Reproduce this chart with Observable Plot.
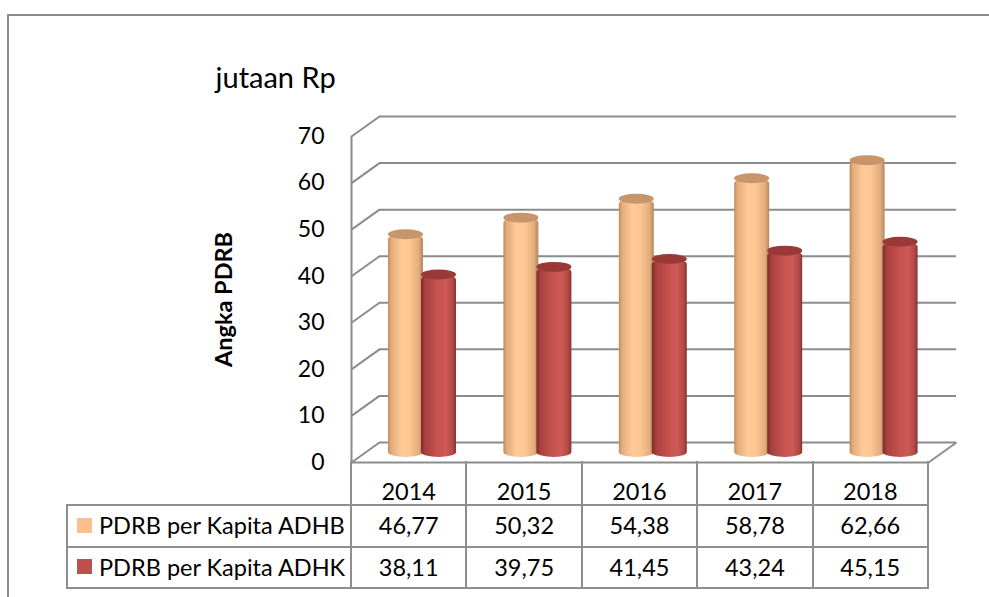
<!DOCTYPE html>
<html>
<head>
<meta charset="utf-8">
<script src="https://cdn.jsdelivr.net/npm/d3@7"></script>
<script src="https://cdn.jsdelivr.net/npm/@observablehq/plot@0.6"></script>
<style>
  html, body { margin: 0; padding: 0; background: #fff; }
  #wrap { position: relative; width: 989px; height: 597px; overflow: hidden; font-family: Lato, "Noto Sans", sans-serif; color: #000; }
  #border { position: absolute; left: 7px; top: 14px; width: 1100px; height: 800px; border: 2px solid #8c8c8c; box-sizing: border-box; }
  #chart { position: absolute; left: 0; top: 0; }
  .hl, .vl { position: absolute; background: #8e8e8e; }
  .cell { position: absolute; text-align: center; white-space: nowrap; font-size: 23.5px; }
  .key { position: absolute; width: 15px; height: 15px; }
</style>
</head>
<body>
<div id="wrap">
  <div id="border"></div>
  <svg width="0" height="0" style="position:absolute">
    <defs>
      <linearGradient id="gA" x1="0" x2="1" y1="0" y2="0">
        <stop offset="0" stop-color="#c08d62"/>
        <stop offset="0.1" stop-color="#e4ad7b"/>
        <stop offset="0.38" stop-color="#ffca98"/>
        <stop offset="0.62" stop-color="#fcc692"/>
        <stop offset="0.88" stop-color="#e2ac7c"/>
        <stop offset="1" stop-color="#b5875d"/>
      </linearGradient>
      <linearGradient id="gK" x1="0" x2="1" y1="0" y2="0">
        <stop offset="0" stop-color="#7e2c2a"/>
        <stop offset="0.12" stop-color="#a8413e"/>
        <stop offset="0.45" stop-color="#c4514e"/>
        <stop offset="0.72" stop-color="#cd5a56"/>
        <stop offset="0.9" stop-color="#b44a47"/>
        <stop offset="1" stop-color="#8a3431"/>
      </linearGradient>
    </defs>
  </svg>
  <div id="chart"></div>
</div>
<script>
// ---- data ----
const years = ["2014", "2015", "2016", "2017", "2018"];
const adhb = [46.77, 50.32, 54.38, 58.78, 62.66];
const adhk = [38.11, 39.75, 41.45, 43.24, 45.15];
const seriesNames = ["PDRB per Kapita ADHB", "PDRB per Kapita ADHK"];
const yTicks = [0, 10, 20, 30, 40, 50, 60, 70];
const yTitle = "Angka PDRB";
const unitLabel = "jutaan Rp";

// ---- layout / style ----
const W = 989, H = 597;
const ML = 351, MR = 61, MT = 136, MB = 135;
const DEPTH_X = 28, DEPTH_Y = 20;     // 3D depth of the walls, px
const yMax = 70;
const grid = "#8c8c8c";
const capA = "#c8956b", capK = "#9a3a37";
const keyColors = ["#fbc08e", "#c0504d"];

const rows = years.map((year, i) => ({i, year, adhb: adhb[i], adhk: adhk[i]}));
const pxX = (W - ML - MR) / years.length;
const pxY = (H - MT - MB) / yMax;
const ddx = DEPTH_X / pxX, ddy = DEPTH_Y / pxY;

const bar = (key, fill, cap, insetLeft, insetRight) => [
  Plot.rect(rows, {x1: d => d.i, x2: d => d.i + 1, y1: 0, y2: key,
    insetLeft, insetRight, insetBottom: -5, rx: 17.5, ry: 5,
    fill, dx: DEPTH_X / 2, dy: -DEPTH_Y / 2}),
  Plot.rect(rows, {x1: d => d.i, x2: d => d.i + 1, y1: key, y2: key,
    insetLeft, insetRight, insetTop: -5, insetBottom: -5, rx: 17.5, ry: 5,
    fill: cap, dx: DEPTH_X / 2, dy: -DEPTH_Y / 2})
];

const chart = Plot.plot({
  width: W, height: H,
  marginLeft: ML, marginRight: MR, marginTop: MT, marginBottom: MB,
  style: {fontFamily: "Lato, 'Noto Sans', sans-serif", fontSize: "23px", background: "transparent", color: "#000", overflow: "visible"},
  x: {domain: [0, years.length], axis: null},
  y: {domain: [0, yMax], axis: null},
  marks: [
    // back wall gridlines
    Plot.ruleY(yTicks, {x1: 0, x2: years.length, dx: DEPTH_X, dy: -DEPTH_Y, stroke: grid, strokeWidth: 2}),
    // left wall diagonals
    Plot.link(yTicks, {x1: 0, y1: d => d, x2: ddx, y2: d => d + ddy, stroke: grid, strokeWidth: 2}),
    // left wall front edge
    Plot.ruleX([0], {y1: 0, y2: yMax, stroke: grid, strokeWidth: 2}),
    // floor right edge and front edge
    Plot.link([0], {x1: years.length, y1: 0, x2: years.length + ddx, y2: ddy, stroke: grid, strokeWidth: 2}),
    Plot.ruleY([0], {x1: 0, x2: years.length, stroke: grid, strokeWidth: 2}),
    ...bar("adhb", "url(#gA)", capA, 23, 57.4),
    ...bar("adhk", "url(#gK)", capK, 56, 24.4),
    Plot.axisY(yTicks, {tickSize: 0, tickPadding: 27, label: null, fontSize: 23}),
    Plot.text([unitLabel], {frameAnchor: "top-left", textAnchor: "start", lineAnchor: "bottom", dx: 215 - ML, dy: 87 - MT, fontSize: 29}),
    Plot.text([yTitle], {frameAnchor: "left", rotate: -90, textAnchor: "middle", lineAnchor: "middle", dx: 224 - ML, fontWeight: "bold", fontSize: 23.5})
  ]
});
document.getElementById("chart").append(chart);

// ---- data table below the plot, aligned on the plot's x scale ----
const wrap = document.getElementById("wrap");
const xs = chart.scale("x"), ys = chart.scale("y");
const colX = d3.range(years.length + 1).map(i => xs.apply(i));
const tableLeft = 67;
const rowY = [ys.apply(0), 505, 547, 588];
const textCenters = [490.5, 525, 566.5];
const fmt = v => v.toFixed(2).replace(".", ",");

function line(cls, left, top, w, h) {
  const el = document.createElement("div");
  el.className = cls;
  Object.assign(el.style, {left: left + "px", top: top + "px", width: w + "px", height: h + "px"});
  wrap.append(el);
}
// horizontal lines
for (let r = 1; r < rowY.length; r++) line("hl", tableLeft - 1, rowY[r] - 1, colX[colX.length - 1] - tableLeft + 2, 2);
// vertical lines
line("vl", tableLeft - 1, rowY[1] - 1, 2, rowY[3] - rowY[1] + 2);
colX.forEach(x => line("vl", x - 1, rowY[0] - 1, 2, rowY[3] - rowY[0] + 2));

function cell(text, left, width, center, align) {
  const el = document.createElement("div");
  el.className = "cell";
  el.textContent = text;
  Object.assign(el.style, {left: left + "px", width: width + "px", top: (center - 15) + "px", height: "30px", lineHeight: "30px", textAlign: align || "center"});
  wrap.append(el);
}
years.forEach((y, i) => cell(y, colX[i], colX[i + 1] - colX[i], textCenters[0]));
[adhb, adhk].forEach((vals, s) => {
  vals.forEach((v, i) => cell(fmt(v), colX[i], colX[i + 1] - colX[i], textCenters[s + 1]));
  const k = document.createElement("div");
  k.className = "key";
  Object.assign(k.style, {left: "77px", top: (textCenters[s + 1] - 7.5) + "px", background: keyColors[s]});
  wrap.append(k);
  cell(seriesNames[s], 99, 250, textCenters[s + 1], "left");
});
</script>
</body>
</html>
